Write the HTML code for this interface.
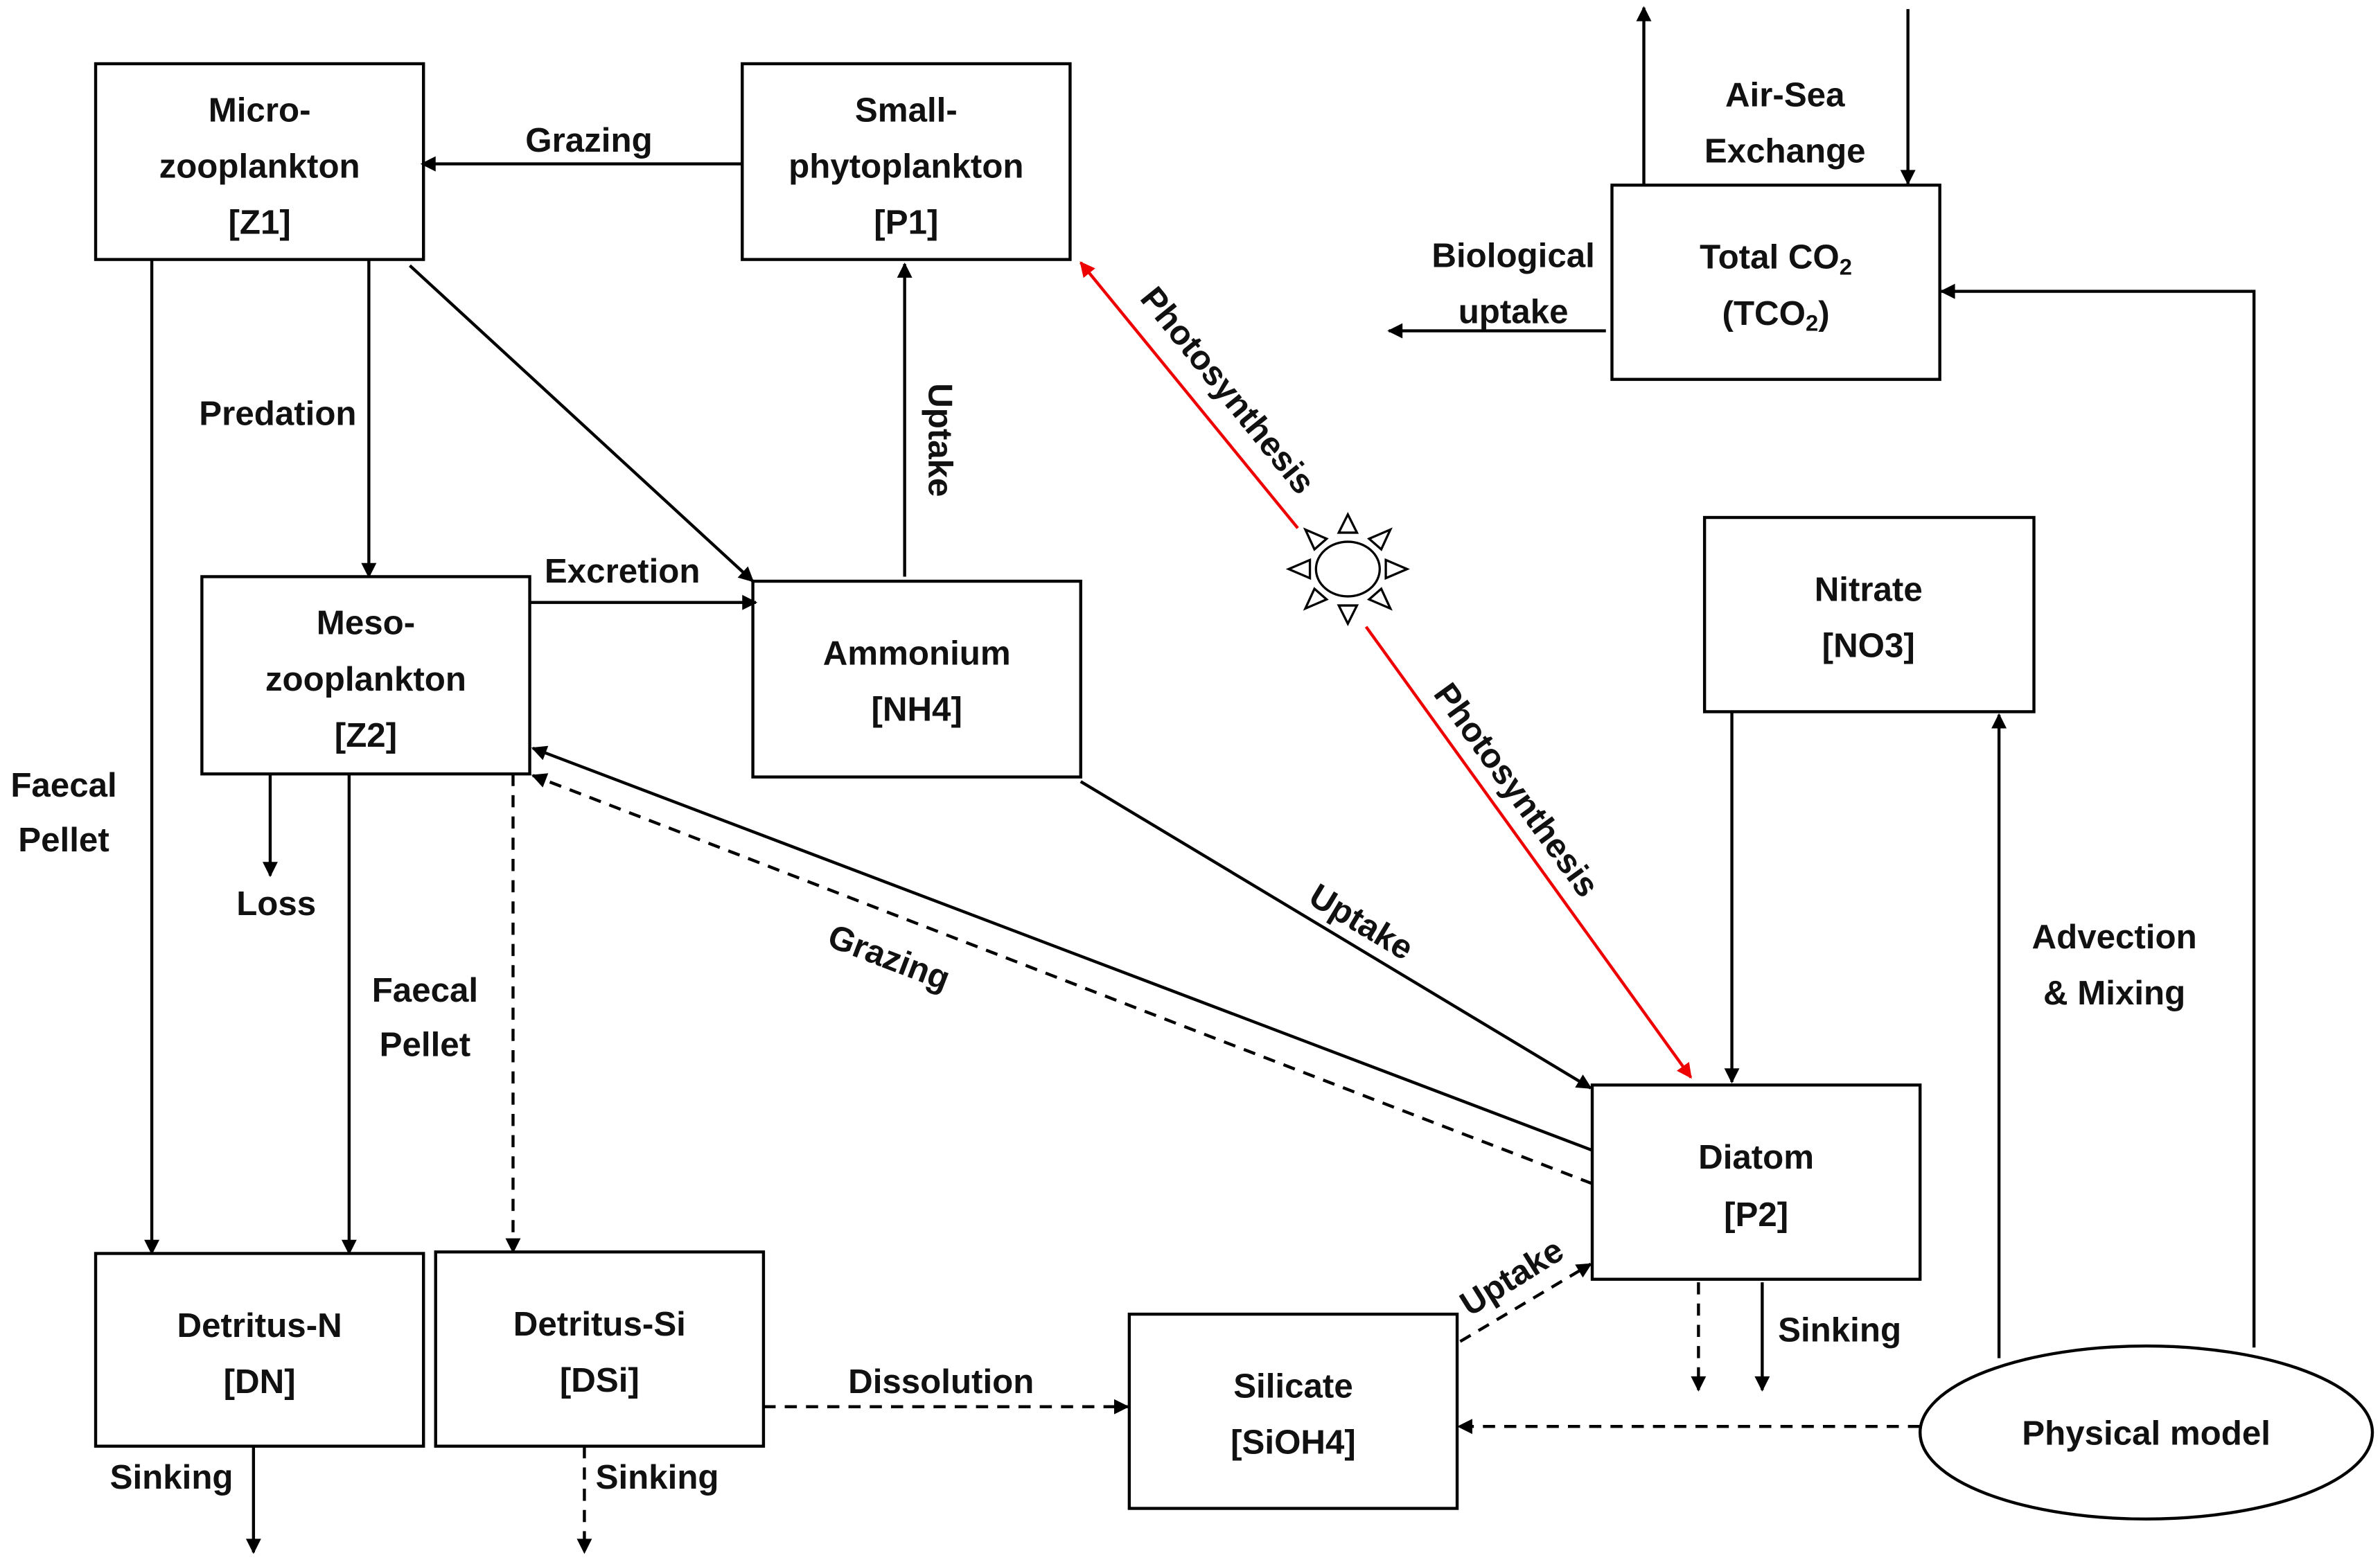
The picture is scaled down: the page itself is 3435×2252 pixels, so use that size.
<!DOCTYPE html>
<html><head><meta charset="utf-8"><style>
html,body{margin:0;padding:0;background:#fff}
svg{display:block}
text{font-family:"Liberation Sans",sans-serif;font-weight:bold;font-size:22.5px;fill:#111;text-anchor:middle}
</style></head><body>
<svg width="3435" height="2252" viewBox="0 0 1568 1028" xmlns="http://www.w3.org/2000/svg">
<defs>
<marker id="a" viewBox="0 0 10 10" refX="9" refY="5" markerWidth="12" markerHeight="10" orient="auto-start-reverse" markerUnits="userSpaceOnUse"><path d="M0,0L10,5L0,10z" fill="#000"/></marker>
<marker id="r" viewBox="0 0 10 10" refX="9" refY="5" markerWidth="12" markerHeight="10" orient="auto" markerUnits="userSpaceOnUse"><path d="M0,0L10,5L0,10z" fill="#e00"/></marker>
</defs>
<g fill="none" stroke="#000" stroke-width="2">
<rect x="63" y="42" width="216" height="129"/>
<rect x="489" y="42" width="216" height="129"/>
<rect x="1062" y="122" width="216" height="128"/>
<rect x="133" y="380" width="216" height="130"/>
<rect x="496" y="383" width="216" height="129"/>
<rect x="1123" y="341" width="217" height="128"/>
<rect x="1049" y="715" width="216" height="128"/>
<rect x="63" y="826" width="216" height="127"/>
<rect x="287" y="825" width="216" height="128"/>
<rect x="744" y="866" width="216" height="128"/>
<ellipse cx="1414" cy="944" rx="149" ry="57"/>
</g>
<g stroke="#000" stroke-width="2" fill="none" marker-end="url(#a)">
<line x1="489" y1="108" x2="278" y2="108"/>
<line x1="100" y1="171" x2="100" y2="826"/>
<line x1="243" y1="171" x2="243" y2="380"/>
<line x1="270" y1="175" x2="496" y2="383"/>
<line x1="349" y1="397" x2="498" y2="397"/>
<line x1="596" y1="380" x2="596" y2="174"/>
<line x1="712" y1="515" x2="1048" y2="717"/>
<line x1="1049" y1="758" x2="351" y2="493"/>
<line x1="1049" y1="780" x2="351" y2="511" stroke-dasharray="8,6"/>
<line x1="178" y1="510" x2="178" y2="577"/>
<line x1="230" y1="510" x2="230" y2="826"/>
<line x1="338" y1="510" x2="338" y2="825" stroke-dasharray="8,6"/>
<line x1="167" y1="953" x2="167" y2="1023"/>
<line x1="385" y1="953" x2="385" y2="1023" stroke-dasharray="8,6"/>
<line x1="503" y1="927" x2="743" y2="927" stroke-dasharray="8,6"/>
<line x1="962" y1="884" x2="1048" y2="833" stroke-dasharray="8,6"/>
<line x1="1119" y1="845" x2="1119" y2="916" stroke-dasharray="8,6"/>
<line x1="1161" y1="845" x2="1161" y2="916"/>
<line x1="1265" y1="940" x2="961" y2="940" stroke-dasharray="8,6"/>
<line x1="1317" y1="895" x2="1317" y2="471"/>
<polyline points="1485,888 1485,192 1279,192"/>
<line x1="1141" y1="469" x2="1141" y2="713"/>
<line x1="1083" y1="122" x2="1083" y2="5"/>
<line x1="1257" y1="6" x2="1257" y2="121"/>
<line x1="1058" y1="218" x2="915" y2="218"/>
</g>
<g stroke="#e00" stroke-width="2" marker-end="url(#r)">
<line x1="855" y1="348" x2="712" y2="173"/>
<line x1="900" y1="413" x2="1114" y2="710"/>
</g>
<g stroke="#000" stroke-width="1.5" fill="none">
<ellipse cx="888" cy="375" rx="21" ry="18"/>
<path d="M882,351 l12,0 l-6,-12z"/><path d="M882,399 l12,0 l-6,12z"/>
<path d="M863,369 l0,12 l-14,-6z"/><path d="M913,369 l0,12 l14,-6z"/>
<path d="M866,362 l8,-7 l-14,-6z"/><path d="M910,362 l-8,-7 l14,-6z"/>
<path d="M866,388 l8,7 l-14,6z"/><path d="M910,388 l-8,7 l14,6z"/>
</g>
<text x="171" y="80">Micro-</text><text x="171" y="117">zooplankton</text><text x="171" y="154">[Z1]</text>
<text x="597" y="80">Small-</text><text x="597" y="117">phytoplankton</text><text x="597" y="154">[P1]</text>
<text x="1170" y="177">Total CO<tspan font-size="15" dy="4">2</tspan></text>
<text x="1170" y="214">(TCO<tspan font-size="15" dy="4">2</tspan><tspan dy="-4">)</tspan></text>
<text x="241" y="418">Meso-</text><text x="241" y="455">zooplankton</text><text x="241" y="492">[Z2]</text>
<text x="604" y="438">Ammonium</text><text x="604" y="475">[NH4]</text>
<text x="1231" y="396">Nitrate</text><text x="1231" y="433">[NO3]</text>
<text x="1157" y="770">Diatom</text><text x="1157" y="808">[P2]</text>
<text x="171" y="881">Detritus-N</text><text x="171" y="918">[DN]</text>
<text x="395" y="880">Detritus-Si</text><text x="395" y="917">[DSi]</text>
<text x="852" y="921">Silicate</text><text x="852" y="958">[SiOH4]</text>
<text x="1414" y="952">Physical model</text>
<text x="388" y="100">Grazing</text>
<text x="183" y="280">Predation</text>
<text x="410" y="384">Excretion</text>
<text x="42" y="525">Faecal</text><text x="42" y="561">Pellet</text>
<text x="182" y="603">Loss</text>
<text x="280" y="660">Faecal</text><text x="280" y="696">Pellet</text>
<text x="113" y="981">Sinking</text>
<text x="433" y="981">Sinking</text>
<text x="620" y="918">Dissolution</text>
<text x="1212" y="884">Sinking</text>
<text x="1393" y="625">Advection</text><text x="1393" y="662">&amp; Mixing</text>
<text x="1176" y="70">Air-Sea</text><text x="1176" y="107">Exchange</text>
<text x="997" y="176">Biological</text><text x="997" y="213">uptake</text>
<text transform="translate(612,290) rotate(90)">Uptake</text>
<text transform="translate(803,262) rotate(51)">Photosynthesis</text>
<text transform="translate(993,525) rotate(54)">Photosynthesis</text>
<text transform="translate(893,614) rotate(31)">Uptake</text>
<text transform="translate(583,638) rotate(21)">Grazing</text>
<text transform="translate(1000,848) rotate(-32)">Uptake</text>
</svg>
</body></html>
